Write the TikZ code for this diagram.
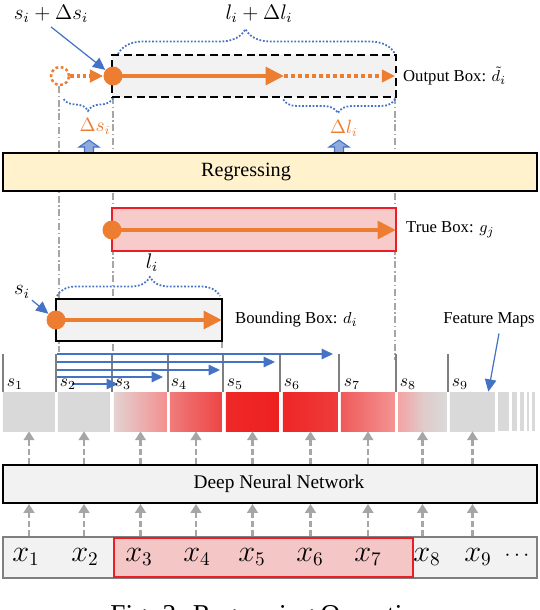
\documentclass[tikz,border=0pt]{standalone}
\usepackage{fontspec}
\setmainfont{Liberation Serif}
\usetikzlibrary{arrows.meta, decorations.pathreplacing, positioning}

\definecolor{ofOrange}{HTML}{ED7D31}
\definecolor{ofBlue}{HTML}{4472C4}
\definecolor{ofLightBlue}{HTML}{8FAADC}
\definecolor{ofYellow}{HTML}{FFF2CC}
\definecolor{ofGray}{HTML}{F2F2F2}
\definecolor{cellGray}{HTML}{D9D9D9}
\definecolor{guideGray}{HTML}{A6A6A6}
\definecolor{tickGray}{HTML}{7F7F7F}
\definecolor{boxRed}{HTML}{EE1C25}
\definecolor{trueFill}{HTML}{F8CBCB}
\definecolor{selFill}{HTML}{F4C6C6}
\definecolor{fmThreeA}{HTML}{E4D2D2}
\definecolor{fmThreeB}{HTML}{F38F8F}
\definecolor{fmFourA}{HTML}{F07B7B}
\definecolor{fmFourB}{HTML}{EE4545}
\definecolor{fmFiveA}{HTML}{EE2828}
\definecolor{fmFiveB}{HTML}{EE2020}
\definecolor{fmSixA}{HTML}{EE2626}
\definecolor{fmSixB}{HTML}{EE3C3C}
\definecolor{fmSevenA}{HTML}{EF5A5A}
\definecolor{fmSevenB}{HTML}{F49494}
\definecolor{fmEightA}{HTML}{F4A2A2}
\definecolor{fmEightM}{HTML}{E0CACA}

\begin{document}
\begin{tikzpicture}[x=0.02cm, y=-0.02cm, >=Triangle, font=\fontsize{9.5}{11}\selectfont]
	\tikzstyle{wide box}=[draw=black, line width=1.1pt, minimum width=10.68cm, minimum height=0.76cm, inner sep=0pt]
	\tikzstyle{reg box}=[draw=black, line width=1.1pt, minimum width=5.68cm, minimum height=0.84cm, inner sep=0pt]
	\tikzstyle{dot}=[circle, fill=ofOrange, minimum size=0.38cm, inner sep=0pt]
	\tikzstyle{offset}=[->, ofOrange, line width=2.5pt, >={Triangle[length=10.5pt, width=10pt]}]
	\tikzstyle{ghost offset}=[->, ofOrange, line width=2pt, dash pattern=on 2pt off 1.6pt, >={Triangle[length=7.5pt, width=7pt]}]
	\tikzstyle{pointer}=[->, ofBlue, line width=0.7pt, >={Triangle[length=7pt, width=6.5pt]}]
	\tikzstyle{slide}=[->, ofBlue, line width=0.8pt, >={Triangle[length=6.5pt, width=6pt]}]
	\tikzstyle{brace}=[decorate, ofBlue, line width=1pt, dash pattern=on 1pt off 1pt]
	\tikzstyle{guide}=[guideGray, line width=0.8pt, dash pattern=on 4pt off 1.5pt on 0.8pt off 1.5pt]
	\tikzstyle{feed}=[->, guideGray, line width=1.2pt, dash pattern=on 3.4pt off 1.7pt, >={Triangle[length=5pt, width=6pt]}]
	\tikzstyle{cell}=[minimum height=0.78cm, inner sep=0pt]
	\tikzstyle{tick}=[tickGray, line width=1.1pt]
	\tikzstyle{math label}=[font=\fontsize{12}{14}\selectfont, inner sep=1pt]
	\tikzstyle{delta label}=[font=\fontsize{10.5}{12}\selectfont, text=ofOrange, inner sep=1pt]
	\tikzstyle{up block}=[fill=ofLightBlue, draw=ofBlue, line width=0.6pt]

	\useasboundingbox (0,0) rectangle (540,610);

	\draw[guide] (59,86) -- (59,352);
	\draw[guide] (113,97) -- (113,352);
	\draw[guide] (395,97) -- (395,360);
	\draw[guide] (222,341) -- (222,350);

	\draw[brace, decoration={brace, amplitude=0.5cm, aspect=0.46}] (118,54) -- (395,54);
	\draw[brace, decoration={brace, amplitude=0.26cm, aspect=0.5}] (113,98) -- (63,98);
	\draw[brace, decoration={brace, amplitude=0.28cm, aspect=0.51}] (395,99) -- (283,99);
	\draw[brace, decoration={brace, amplitude=0.38cm, aspect=0.57}] (57,296) -- (220,296);

	\node[reg box, fill=ofGray, dash pattern=on 4.5pt off 2.5pt] (out) at (254,76) {};
	\node[right=0pt of out] (out label) {Output Box: $\tilde{d}_i$};
	\node[circle, draw=ofOrange, line width=1.4pt, dash pattern=on 1.6pt off 1.4pt, minimum size=0.36cm, inner sep=0pt] (ghost) at (60,76) {};
	\node[dot] (o1) at (113,76) {};
	\coordinate (o1 mid) at (284,76);
	\coordinate (o1 end) at (395,76);
	\draw[ghost offset] (ghost) -- (o1);
	\draw[offset] (o1.center) -- (o1 mid);
	\draw[ghost offset, line width=2.2pt, dash pattern=on 2.3pt off 1.7pt] (o1 mid) -- (o1 end);

	\node[math label] (top s) at (51,14) {$s_i + \Delta s_i$};
	\node[math label] (top l) at (259,14) {$l_i + \Delta l_i$};
	\draw[pointer] ([yshift=-0.04cm]top s.south) -- (o1);

	\node[delta label] (ds) at (95,126) {$\Delta s_i$};
	\node[delta label] (dl) at (344,128) {$\Delta l_i$};
	\foreach \x in {89,339}
		\filldraw[up block] (\x,140) -- ++(10,7) -- ++(-5.5,0) -- ++(0,6) -- ++(-9,0) -- ++(0,-6) -- ++(-5.5,0) -- cycle;

	\node[wide box, fill=ofYellow, minimum height=0.76cm] (reg) at (270,172) {};
	\node[font=\fontsize{11.5}{13}\selectfont] (reg text) at (246,172) {Regressing};

	\node[reg box, draw=boxRed, fill=trueFill, minimum height=0.86cm] (true) at (254,229.5) {};
	\node[right=0.06cm of true] (true label) {True Box: $g_j$};
	\node[dot] (o2) at (112,230) {};
	\coordinate (o2 end) at (396,230);
	\draw[offset] (o2.center) -- (o2 end);

	\node[math label] (li) at (152,263) {$l_i$};
	\node[reg box, fill=ofGray, minimum width=3.32cm] (bbox) at (139,320) {};
	\node[right=0.12cm of bbox] (bbox label) {Bounding Box: $d_i$};
	\node[dot] (o3) at (56,320) {};
	\coordinate (o3 end) at (222,320);
	\draw[offset] (o3.center) -- (o3 end);
	\node[math label] (si) at (22,292) {$s_i$};
	\draw[pointer] (si) -- (o3);

	\foreach \x in {3,56,112,168,223,280,339,396,448}
		\draw[tick] (\x,354) -- (\x,392);

	\foreach \k/\y/\a/\b in {1/354/57/333, 2/362/57/275, 3/370/57/220, 4/377/57/163, 5/384/72/118} {
		\coordinate (sa\k) at (\a,\y);
		\coordinate (sb\k) at (\b,\y);
		\draw[slide] (sa\k) -- (sb\k);
	}

	\foreach \n/\x in {1/15, 2/68, 3/123, 4/179, 5/235, 6/292, 7/352, 8/408, 9/460}
		\node[font=\fontsize{10}{12}\selectfont, inner sep=0pt] (s\n) at (\x,384) {$s_{\n}$};

	\foreach \n/\l/\r/\a/\b in {1/3/55/cellGray/cellGray, 2/58/110/cellGray/cellGray, 3/114/167/fmThreeA/fmThreeB, 4/170/222/fmFourA/fmFourB, 5/226/279/fmFiveA/fmFiveB, 6/283/338/fmSixA/fmSixB, 7/341/395/fmSevenA/fmSevenB, 9/450/495/cellGray/cellGray}
		\node[cell, left color=\a, right color=\b, minimum width={(\r-\l)*0.02cm}] (c\n) at ({(\l+\r)/2},411.5) {};
	\node[cell, left color=fmEightA, right color=cellGray, middle color=fmEightM, minimum width=0.98cm] (c8) at (422.5,411.5) {};
	\foreach \l/\r in {498/509, 512/517, 520/524, 527/529, 532/535}
		\fill[cellGray] (\l,392) rectangle (\r,431);

	\node (fm) at (489,320) {Feature Maps};
	\draw[pointer] ([xshift=0.2cm]fm.south) -- ([xshift=-0.14cm]c9.north east);

	\node[wide box, fill=ofGray] (dnn) at (270,484) {};
	\node[font=\fontsize{11}{13}\selectfont] (dnn text) at (279,484) {Deep Neural Network};
	\foreach \n in {1,...,9}
		\draw[feed] (dnn.north -| c\n) -- (c\n.south);

	\node[wide box, draw=tickGray, fill=ofGray, minimum height=0.82cm] (input) at (270,557.5) {};
	\node[draw=boxRed, line width=1.1pt, fill=selFill, minimum width=5.98cm, minimum height=0.78cm, inner sep=0pt] (sel) at (263.5,557.5) {};
	\foreach \n in {1,...,9}
		\draw[feed] (input.north -| c\n) -- (dnn.south -| c\n);
	\foreach \n/\x in {1/26, 2/85, 3/139, 4/197, 5/252, 6/310, 7/368, 8/427, 9/478}
		\node[font=\fontsize{16}{18}\selectfont, inner sep=0pt] (x\n) at (\x,557) {$x_{\n}$};
	\node[font=\fontsize{12}{14}\selectfont, inner sep=0pt] (x dots) at (517,556) {$\cdots$};

	\node[anchor=base, font=\fontsize{15.5}{18}\selectfont] (caption) at (270,623) {Fig. 2: Regressing Operation};
\end{tikzpicture}
\end{document}
